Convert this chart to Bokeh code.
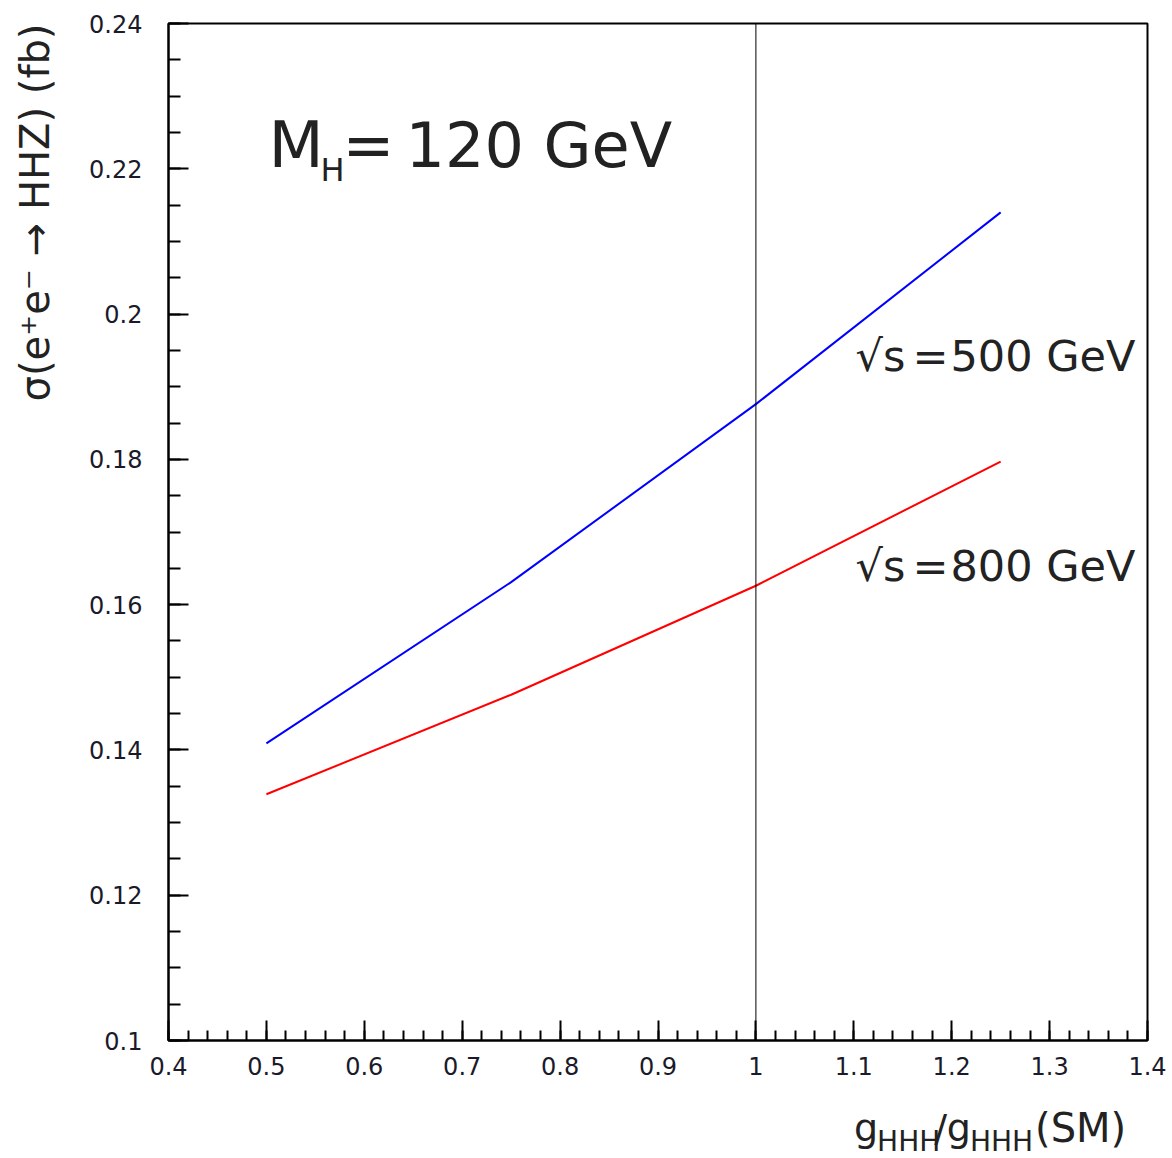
import numpy as np
from math import pi
from bokeh.plotting import figure
from bokeh.layouts import row, column
from bokeh.models import FixedTicker, Span
from bokeh.core.properties import value
from bokeh.embed import file_html
from bokeh.resources import INLINE

# ---- data ----
g_ratio = [0.5, 0.75, 1.0, 1.25]
sigma_500 = [0.1409, 0.1631, 0.1876, 0.2140]
sigma_800 = [0.1339, 0.1476, 0.1626, 0.1797]
sm_ratio = 1.0

x_ticks = [0.4, 0.5, 0.6, 0.7, 0.8, 0.9, 1.0, 1.1, 1.2, 1.3, 1.4]
x_tick_labels = ["0.4", "0.5", "0.6", "0.7", "0.8", "0.9", "1", "1.1", "1.2", "1.3", "1.4"]
y_ticks = [0.1, 0.12, 0.14, 0.16, 0.18, 0.2, 0.22, 0.24]
y_tick_labels = ["0.1", "0.12", "0.14", "0.16", "0.18", "0.2", "0.22", "0.24"]

y_title = "\u03c3(e\u207ae\u207b \u2192 HHZ) (fb)"
mass_label = ["M", "H", "=", "120 GeV"]
energy_labels = ["500 GeV", "800 GeV"]

X0, X1 = 0.4, 1.4
Y0, Y1 = 0.1, 0.24

W, H = 1172, 1158
LW = 75                # left strip (y title)
BOT = 63               # bottom strip (x title)
MW, MH = W - LW, H - BOT
FL, FR, FT = 168, 1147, 23      # frame edges in page pixels
FB = 1040
FW, FH = FR - FL, FB - FT
K = 0.4                # baseline correction (em)

def fx(px):
    return X0 + (px - FL) * (X1 - X0) / FW

def fy(py):
    return Y0 + (FB - py) * (Y1 - Y0) / FH

FONT = "DejaVu Sans"
TXT = "#222222"

p = figure(width=MW, height=MH, x_range=(X0, X1), y_range=(Y0, Y1),
           output_backend="svg", toolbar_location=None,
           min_border_left=FL - LW, min_border_right=W - FR,
           min_border_top=FT, min_border_bottom=MH - FB)

p.xgrid.visible = False
p.ygrid.visible = False
p.outline_line_color = "black"
p.outline_line_width = 2

x_minor = [round(v, 3) for v in np.arange(0.4, 1.4001, 0.02)]
y_minor = [round(v, 4) for v in np.arange(0.1, 0.24001, 0.005)]

p.xaxis.ticker = FixedTicker(ticks=x_ticks, minor_ticks=x_minor)
p.yaxis.ticker = FixedTicker(ticks=y_ticks, minor_ticks=y_minor)
p.xaxis.major_label_overrides = {t: l for t, l in zip(x_ticks, x_tick_labels)}
p.yaxis.major_label_overrides = {t: l for t, l in zip(y_ticks, y_tick_labels)}

for ax in (p.xaxis, p.yaxis):
    ax.major_tick_out = 0
    ax.minor_tick_out = 0
    ax.major_tick_in = 20
    ax.axis_line_color = "black"
    ax.axis_line_width = 2
    ax.major_tick_line_color = "black"
    ax.minor_tick_line_color = "black"
    ax.major_tick_line_width = 2
    ax.minor_tick_line_width = 2
    ax.major_label_text_font = FONT
    ax.major_label_text_font_size = "24px"
    ax.major_label_text_color = "#1a1a2a"
p.xaxis.minor_tick_in = 10
p.yaxis.minor_tick_in = 12
p.xaxis.major_label_standoff = 16
p.yaxis.major_label_standoff = 26

p.line(g_ratio, sigma_500, line_color="#0000ff", line_width=2)
p.line(g_ratio, sigma_800, line_color="#ff0000", line_width=2)

p.add_layout(Span(location=sm_ratio, dimension="height", line_color="black", line_width=1))

def txt(fig, mapx, mapy, text, px, py, size, align="left", vertical=False):
    if vertical:
        px = px - K * size
    else:
        py = py - K * size
    fig.text(x=[mapx(px)], y=[mapy(py)], text=[text], text_font=value(FONT),
             text_font_size=value(f"{size}px"), text_align=align,
             text_baseline="alphabetic", angle=pi / 2 if vertical else 0.0,
             text_color=TXT)

# M_H = 120 GeV
txt(p, fx, fy, mass_label[0], 268, 170, 64)
txt(p, fx, fy, mass_label[1], 320, 182, 32)
txt(p, fx, fy, mass_label[2], 342, 170, 62)
txt(p, fx, fy, mass_label[3], 405, 170, 62)

# sqrt(s) labels
for lab, base in zip(energy_labels, (373, 583)):
    txt(p, fx, fy, "\u221as", 855, base, 43)
    txt(p, fx, fy, "=", 912, base, 43)
    txt(p, fx, fy, lab, 950, base, 43)

# ---- left strip: y title ----
left = figure(width=LW, height=H, x_range=(0, LW), y_range=(0, H),
              output_backend="svg", toolbar_location=None,
              x_axis_location=None, y_axis_location=None,
              min_border=0, outline_line_color=None)
left.grid.visible = False
txt(left, lambda px: px, lambda py: H - py, y_title, 50, 212, 40, align="center", vertical=True)

# ---- bottom strip: x title ----
bottom = figure(width=MW, height=BOT, x_range=(LW, W), y_range=(MH, H),
                output_backend="svg", toolbar_location=None,
                x_axis_location=None, y_axis_location=None,
                min_border=0, outline_line_color=None)
bottom.grid.visible = False
bx = lambda px: px
by = lambda py: H - py + MH
txt(bottom, bx, by, "g", 843, 1143, 38)
txt(bottom, bx, by, "HHH", 869, 1152, 28)
txt(bottom, bx, by, "/", 933, 1143, 38)
txt(bottom, bx, by, "g", 947, 1143, 38)
txt(bottom, bx, by, "HHH", 973, 1152, 28)
txt(bottom, bx, by, "(SM)", 1046, 1143, 40)

layout = row(left, column(p, bottom, spacing=0), spacing=0)

open("out.html", "w").write(file_html(layout, INLINE))
